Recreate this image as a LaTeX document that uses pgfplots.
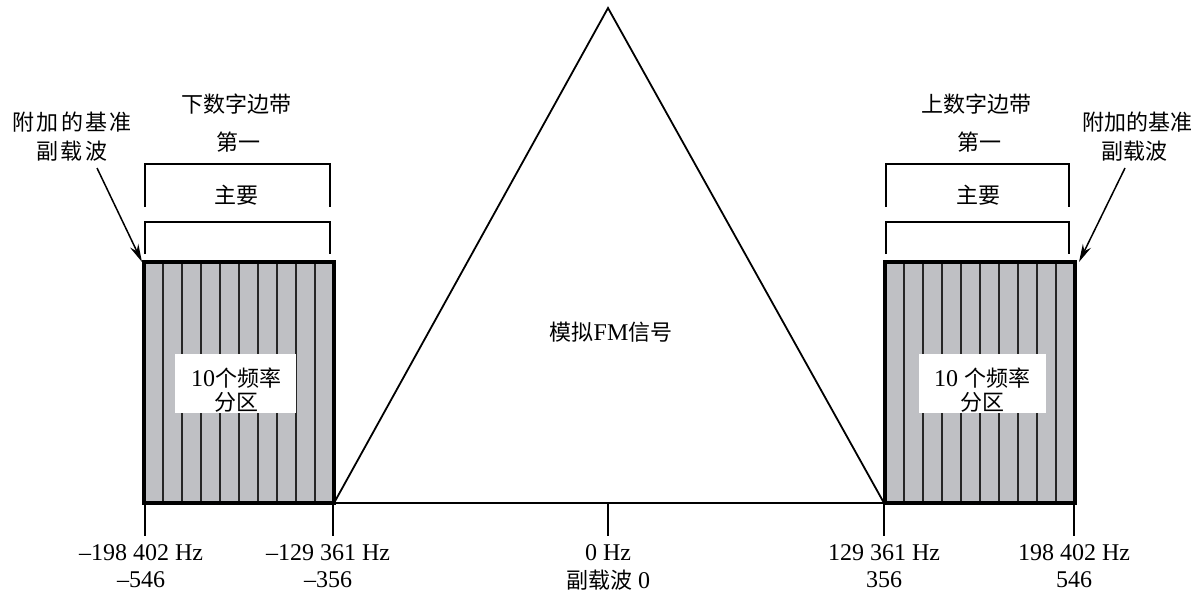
\documentclass[border=0pt]{standalone}
\usepackage{pgfplots}
\pgfplotsset{compat=1.18}
\usepackage{fontspec}
\setmainfont{Liberation Serif}
\newfontfamily\cjk{Noto Sans CJK SC}
\usetikzlibrary{arrows.meta}
\definecolor{boxgray}{RGB}{191,192,196}
\tikzset{zh/.style={font=\cjk\fontsize{22}{26}\selectfont},
         zhs/.style={font=\cjk\fontsize{22}{26}\selectfont\addfontfeature{LetterSpace=10}},
         lab/.style={font=\fontsize{24}{27}\selectfont}}
\begin{document}
\begin{tikzpicture}
\begin{axis}[x=1pt,y=1pt,xmin=0,xmax=1202,ymin=0,ymax=598,y dir=reverse,
  hide axis,clip=false,unbounded coords=jump]
% frame for bounding box
\addplot[draw=none] coordinates {(0,0)(1202,598)};
% boxes fill
\addplot[fill=boxgray,draw=none] coordinates {(144,262)(334,262)(334,503)(144,503)} -- cycle;
\addplot[fill=boxgray,draw=none] coordinates {(885,262)(1075,262)(1075,503)(885,503)} -- cycle;
% partition lines
\addplot[black!85,line width=1.4pt] coordinates {
(163,262)(163,503)(163,nan)(182,262)(182,503)(182,nan)(201,262)(201,503)(201,nan)
(220,262)(220,503)(220,nan)(239,262)(239,503)(239,nan)(258,262)(258,503)(258,nan)
(277,262)(277,503)(277,nan)(296,262)(296,503)(296,nan)(315,262)(315,503)(315,nan)
(904,262)(904,503)(904,nan)(923,262)(923,503)(923,nan)(942,262)(942,503)(942,nan)
(961,262)(961,503)(961,nan)(980,262)(980,503)(980,nan)(999,262)(999,503)(999,nan)
(1018,262)(1018,503)(1018,nan)(1037,262)(1037,503)(1037,nan)(1056,262)(1056,503)(1056,nan)};
% box borders
\addplot[black,line width=3.2pt] coordinates {(144,262)(334,262)(334,503)(144,503)} -- cycle;
\addplot[black,line width=3.2pt] coordinates {(885,262)(1075,262)(1075,503)(885,503)} -- cycle;
% white label boxes
\addplot[fill=white,draw=none] coordinates {(175,354)(296,354)(296,413)(175,413)} -- cycle;
\addplot[fill=white,draw=none] coordinates {(919,354)(1046,354)(1046,413)(919,413)} -- cycle;
% triangle
\addplot[black,line width=1.8pt,line join=miter] coordinates {(334,503)(608,8)(884,503)};
% baseline
\addplot[black,line width=2.6pt] coordinates {(144,503)(1075,503)};
% tick lines
\addplot[black,line width=1.9pt] coordinates {
(145,503)(145,536)(145,nan)(333,503)(333,536)(333,nan)(608,503)(608,536)(608,nan)
(884,503)(884,536)(884,nan)(1074,503)(1074,536)};
% brackets
\addplot[black,line width=1.2pt] coordinates {(145,207)(145,164)(330,164)(330,207)};
\addplot[black,line width=1.2pt] coordinates {(145,254)(145,222)(330,222)(330,254)};
\addplot[black,line width=1.2pt] coordinates {(886,207)(886,164)(1069,164)(1069,207)};
\addplot[black,line width=1.2pt] coordinates {(886,254)(886,222)(1069,222)(1069,254)};
% arrows
\addplot[black,line width=1.5pt,-{Stealth[length=18pt,width=9pt]}] coordinates {(97,168)(142,262)};
\addplot[black,line width=1.5pt,-{Stealth[length=18pt,width=9pt]}] coordinates {(1125,168)(1079,262)};
% texts
\node[zh] at (axis cs:236,104) {下数字边带};
\node[zh] at (axis cs:238,142) {第一};
\node[zh] at (axis cs:236,195) {主要};
\node[zhs] at (axis cs:72,122) {附加的基准};
\node[zhs] at (axis cs:72,151) {副载波};
\node[zh] at (axis cs:976,104) {上数字边带};
\node[zh] at (axis cs:979,142) {第一};
\node[zh] at (axis cs:978,195) {主要};
\node[zh] at (axis cs:1137,122) {附加的基准};
\node[zh] at (axis cs:1134,151) {副载波};
\node[zh] at (axis cs:236,378) {{\rmfamily\fontsize{24}{27}\selectfont 10}个频率};
\node[zh] at (axis cs:236,402) {分区};
\node[zh] at (axis cs:982,378) {{\rmfamily\fontsize{24}{27}\selectfont 10 }个频率};
\node[zh] at (axis cs:982,402) {分区};
\node[zh] at (axis cs:611,332) {模拟{\rmfamily\fontsize{24}{27}\selectfont FM}信号};
% tick labels
\node[lab] at (axis cs:141,553) {–198 402 Hz};
\node[lab] at (axis cs:141,580) {–546};
\node[lab] at (axis cs:328,553) {–129 361 Hz};
\node[lab] at (axis cs:328,580) {–356};
\node[lab] at (axis cs:608,553) {0 Hz};
\node[lab] at (axis cs:608,580) {{\cjk\fontsize{22}{26}\selectfont 副载波} 0};
\node[lab] at (axis cs:884,553) {129 361 Hz};
\node[lab] at (axis cs:884,580) {356};
\node[lab] at (axis cs:1074,553) {198 402 Hz};
\node[lab] at (axis cs:1074,580) {546};
\end{axis}
\end{tikzpicture}
\end{document}
